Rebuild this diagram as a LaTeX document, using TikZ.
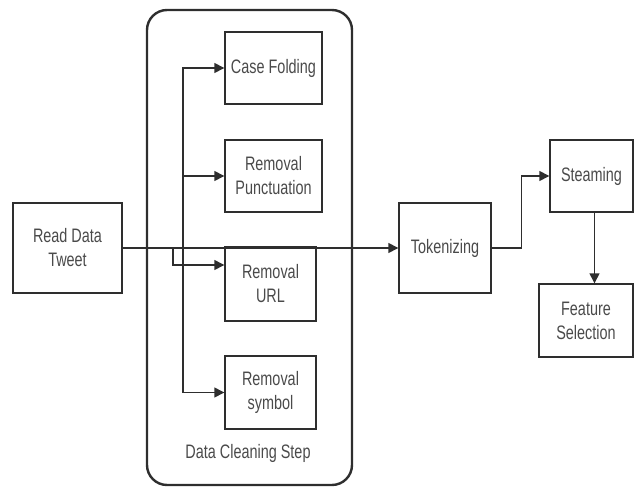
\documentclass[tikz,border=0pt]{standalone}
\usepackage{fontspec}
\setmainfont[FakeStretch=0.74]{Liberation Sans}
\usetikzlibrary{arrows.meta}
\definecolor{linec}{HTML}{2E2E2E}
\definecolor{textc}{HTML}{4A4A4A}
\tikzset{
  box/.style={draw=linec, line width=1.4pt, align=center, inner sep=2pt,
    text=textc, font=\fontsize{19.5}{24}\selectfont},
  lbl/.style={text=textc, font=\fontsize{19.5}{24}\selectfont},
  conn/.style={draw=linec, line width=1.4pt},
  arr/.style={conn, -{Triangle[length=10pt,width=10pt]}},
  frame/.style={draw=linec, line width=2.4pt, rounded corners=20pt}
}
\begin{document}
\begin{tikzpicture}[x=1pt,y=-1pt]
\useasboundingbox (0,0) rectangle (635,487);
\node[frame, minimum width=205pt, minimum height=475pt] (cont) at (249.5,247.5) {};
\node[box, minimum width=109pt, minimum height=90pt] (read) at (67.5,248) {Read Data\\Tweet};
\node[box, minimum width=97pt, minimum height=72pt] (case) at (273.5,68) {Case Folding};
\node[box, minimum width=97pt, minimum height=72pt] (punct) at (273.5,176) {Removal\\Punctuation};
\node[box, minimum width=91pt, minimum height=74pt] (url) at (270.5,284) {Removal\\URL};
\node[box, minimum width=91pt, minimum height=73pt] (symbol) at (270.5,392.5) {Removal\\symbol};
\node[lbl] (dcs) at (248,453) {Data Cleaning Step};
\node[box, minimum width=92pt, minimum height=90pt] (token) at (445,248) {Tokenizing};
\node[box, minimum width=83pt, minimum height=72pt] (steam) at (591.5,176) {Steaming};
\node[box, minimum width=94pt, minimum height=73pt] (feature) at (586,320.5) {Feature\\Selection};
\coordinate (j) at (183,248);
\coordinate (j2) at (173,248);
\draw[arr] (read.east) -- (token.west);
\draw[arr] (j) |- (case.west);
\draw[arr] (j) |- (punct.west);
\draw[arr] (j) |- (symbol.west);
\draw[arr] (j2) |- ([yshift=19pt]url.west);
\draw[arr] (token.east) -- ++(30,0) |- (steam.west);
\draw[arr] ([xshift=3pt]steam.south) -- ([xshift=3pt]steam.south |- feature.north);
\end{tikzpicture}
\end{document}
